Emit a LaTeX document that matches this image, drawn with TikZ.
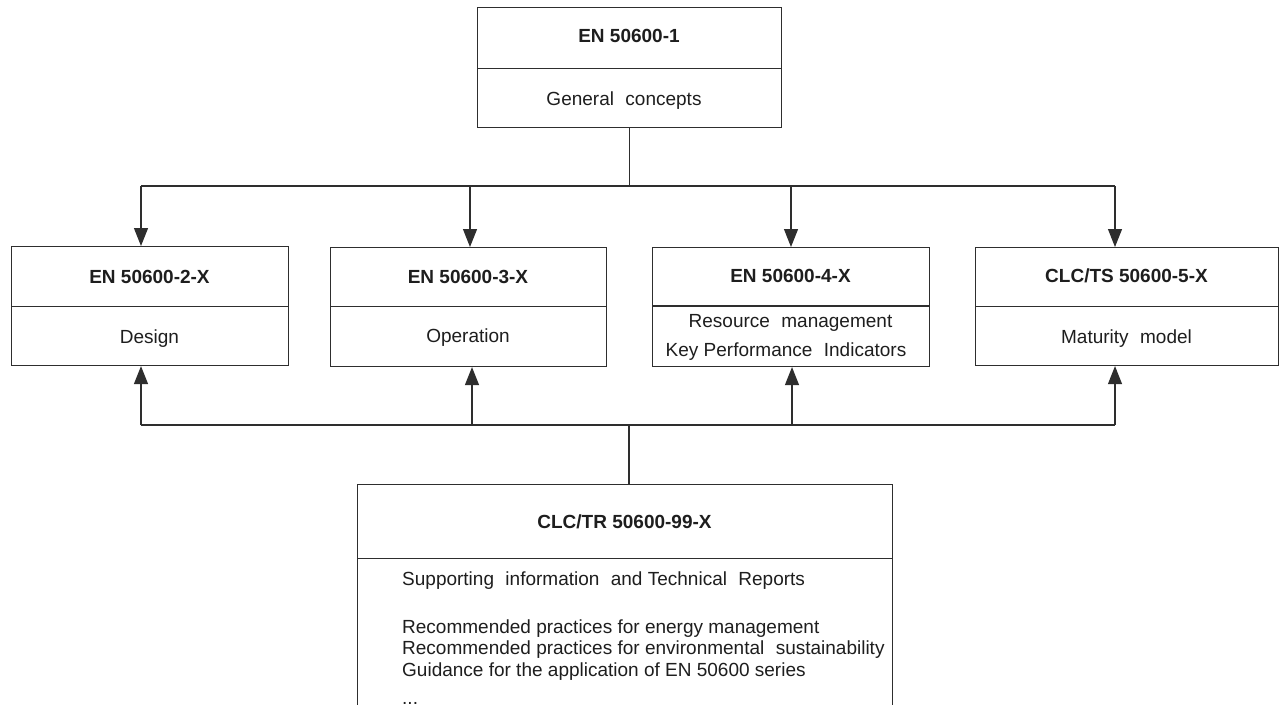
\documentclass[tikz,border=0pt]{standalone}
\usepackage{fontspec}
\setmainfont{Liberation Sans}
\usetikzlibrary{arrows.meta}
\definecolor{lc}{HTML}{2E2E2E}
\definecolor{tc}{HTML}{1E1E1E}
\newcommand{\wsp}{\hspace{0.6em}}
\begin{document}
\begin{tikzpicture}[x=1pt,y=-1pt,
  box/.style={draw=lc, line width=1.1pt, rectangle, inner sep=0pt, anchor=north west},
  div/.style={draw=lc, line width=1pt},
  wire/.style={draw=lc, line width=1.1pt},
  arr/.style={draw=lc, line width=1.1pt, -{Triangle[length=18pt,width=14pt]}},
  hd/.style={inner sep=0pt, anchor=base, text=tc, font=\fontsize{19}{21.5}\selectfont\bfseries},
  bd/.style={inner sep=0pt, anchor=base, text=tc, font=\fontsize{19}{21.5}\selectfont},
  bdl/.style={bd, anchor=base west}]
\useasboundingbox (0,0) rectangle (1279,704);
\clip (0,0) rectangle (1279,704);
\fill[white] (0,0) rectangle (1279,704);

% boxes
\node[box, minimum width=304pt, minimum height=120pt] (T) at (477,7) {};
\node[box, minimum width=277pt, minimum height=119pt] (A) at (11,246) {};
\node[box, minimum width=276pt, minimum height=119pt] (B) at (330,247) {};
\node[box, minimum width=277pt, minimum height=119pt] (C) at (652,247) {};
\node[box, minimum width=303pt, minimum height=118pt] (D) at (975,247) {};
\node[box, minimum width=535pt, minimum height=300pt] (E) at (357,484) {};

% dividers
\coordinate (dT) at (0,68);
\coordinate (dM) at (0,306);
\coordinate (dE) at (0,558);
\draw[div] (T.west |- dT) -- (T.east |- dT);
\draw[div] (A.west |- dM) -- (A.east |- dM);
\draw[div] (B.west |- dM) -- (B.east |- dM);
\draw[div, line width=1.8pt] (C.west |- dM) -- (C.east |- dM);
\draw[div] (D.west |- dM) -- (D.east |- dM);
\draw[div] (E.west |- dE) -- (E.east |- dE);

% texts
\node[hd] (Th) at (629,42) {EN 50600-1};
\node[bd] (Tb) at (624,105) {General\wsp concepts};
\node[hd] (Ah) at (149.5,283) {EN 50600-2-X};
\node[bd] (Ab) at (149.5,343) {Design};
\node[hd] (Bh) at (468,283) {EN 50600-3-X};
\node[bd] (Bb) at (468,342) {Operation};
\node[hd] (Ch) at (790.5,282) {EN 50600-4-X};
\node[bd] (Cb1) at (790.5,327) {Resource\wsp management};
\node[bd] (Cb2) at (786,356) {Key Performance\wsp Indicators};
\node[hd] (Dh) at (1126.5,282) {CLC/TS 50600-5-X};
\node[bd] (Db) at (1126.5,343) {Maturity\wsp model};
\node[hd] (Eh) at (624.5,528) {CLC/TR 50600-99-X};
\node[bdl] (E1) at (402,585) {Supporting\wsp information\wsp and Technical\wsp Reports};
\node[bdl] (E2) at (402,633) {Recommended practices for energy management};
\node[bdl] (E3) at (402,654.5) {Recommended practices for environmental\wsp sustainability};
\node[bdl] (E4) at (402,676) {Guidance for the application of EN 50600 series};
\node[bdl] (E5) at (402,704) {...};

% top distribution
\coordinate (ta) at (141,186);
\coordinate (tb) at (470,186);
\coordinate (tc) at (791,186);
\coordinate (td) at (1115,186);
\draw[wire] (ta) -- (td);
\draw[wire] (T.south) -- (T.south |- ta);
\draw[arr] (ta) -- (ta |- A.north);
\draw[arr] (tb) -- (tb |- B.north);
\draw[arr] (tc) -- (tc |- C.north);
\draw[arr] (td) -- (td |- D.north);

% bottom collection
\coordinate (ba) at (141,425);
\coordinate (bb) at (472,425);
\coordinate (bc) at (792,425);
\coordinate (bd) at (1115,425);
\coordinate (bm) at (629,425);
\draw[wire] (ba) -- (bd);
\draw[wire] (bm) -- (bm |- E.north);
\draw[arr] (ba) -- (ba |- A.south);
\draw[arr] (bb) -- (bb |- B.south);
\draw[arr] (bc) -- (bc |- C.south);
\draw[arr] (bd) -- (bd |- D.south);
\end{tikzpicture}
\end{document}
